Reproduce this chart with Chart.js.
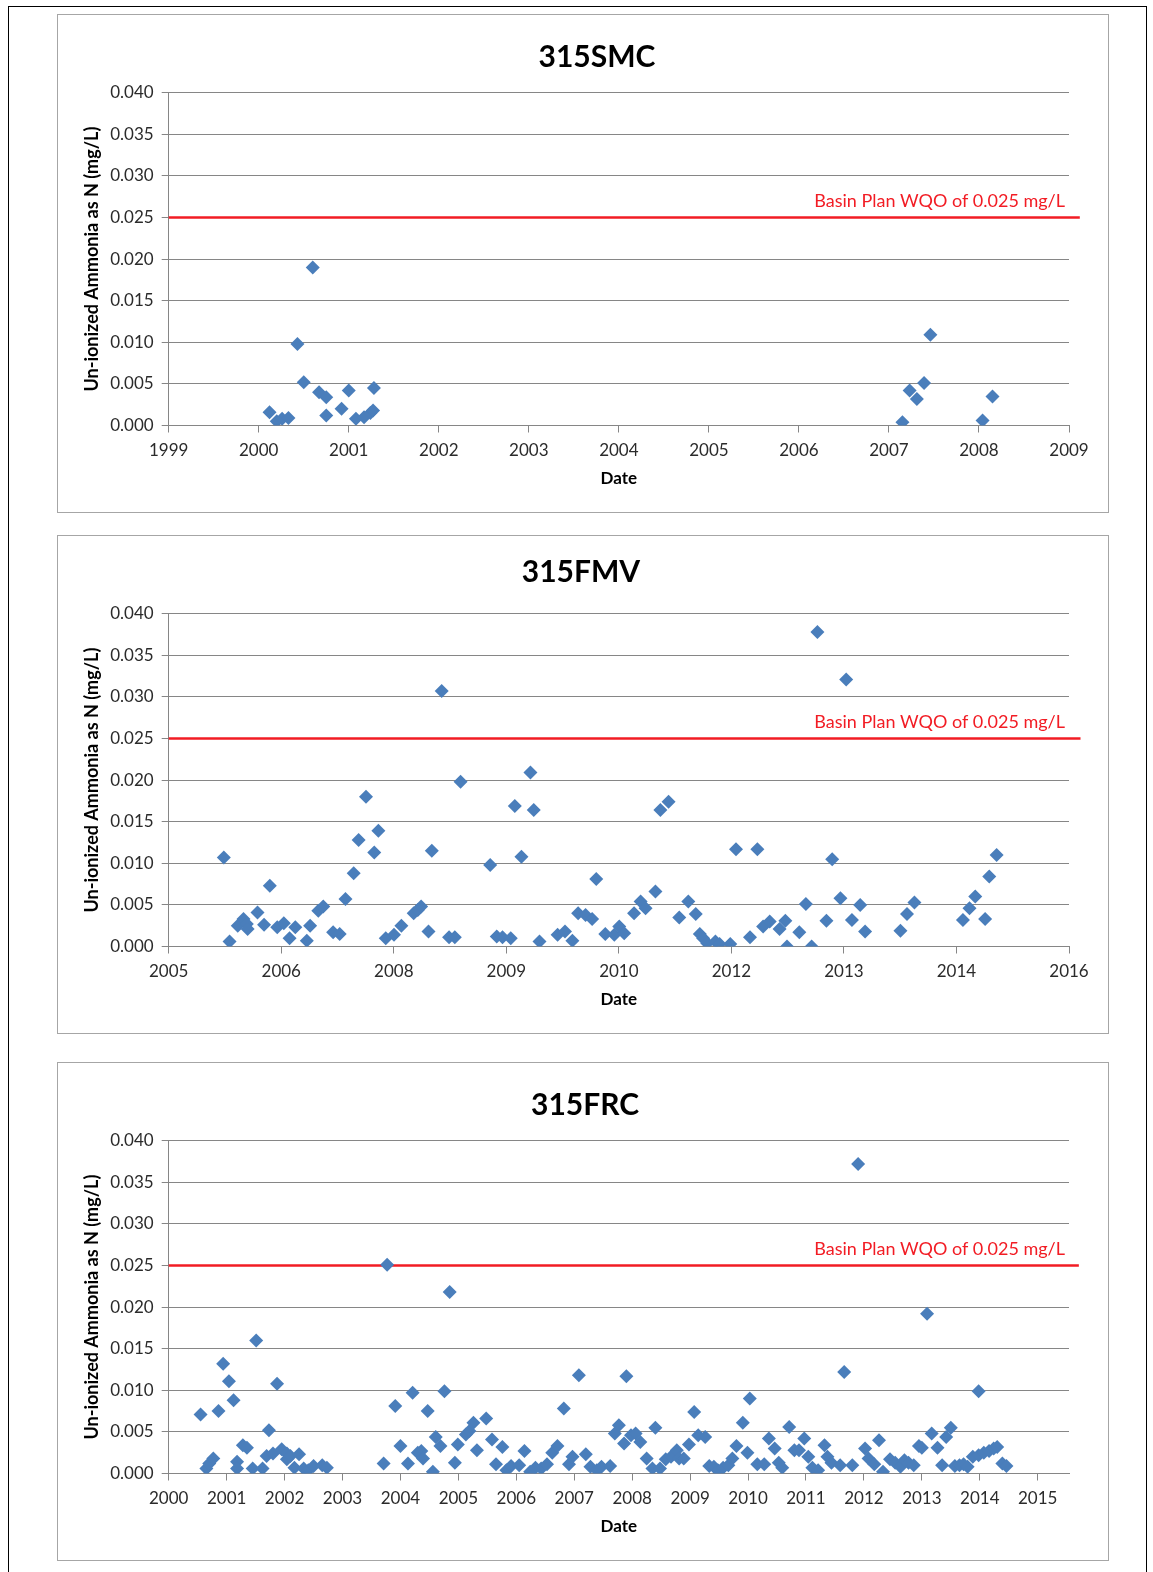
<!DOCTYPE html>
<html>
<head>
<meta charset="utf-8">
<script src="https://cdn.jsdelivr.net/npm/chart.js@4.4.1/dist/chart.umd.min.js"></script>
<style>
    body { margin: 0; background: #fff; width: 1153px; height: 1572px; position: relative; overflow: hidden; }
    .page { position: absolute; left: 8px; top: 6px; width: 1139px; height: 1620px; border: 1.5px solid #000; box-sizing: border-box; }
    .box { position: absolute; left: 57px; width: 1052px; height: 499px; border: 1px solid #a6a6a6; box-sizing: border-box; background: #fff; }
    .box canvas { display: block; }
</style>
</head>
<body>
<div class="page"></div>
<div class="box" style="top:14px"><canvas id="chartSMC" width="1050" height="497"></canvas></div>
<div class="box" style="top:535px"><canvas id="chartFMV" width="1050" height="497"></canvas></div>
<div class="box" style="top:1062px"><canvas id="chartFRC" width="1050" height="497"></canvas></div>

<script>
// Objetivo de calidad (Basin Plan WQO)
const wqoLimit = 0.025;
const wqoText = 'Basin Plan WQO of 0.025 mg/L';

// Eje Y común
const yMin = 0;
const yMax = 0.040;
const yStep = 0.005;

// 315SMC
const smcTickLabels = ['1999', '2000', '2001', '2002', '2003', '2004', '2005', '2006', '2007', '2008', '2009'];
const smcRange = [1999, 2009];
const smcLineEnd = 2009.12;
const smcDates = [2000.12, 2000.20, 2000.26, 2000.33, 2000.43, 2000.50, 2000.60, 2000.67, 2000.75, 2000.75,
    2000.92, 2001.00, 2001.08, 2001.17, 2001.24, 2001.27, 2001.28,
    2007.15, 2007.23, 2007.31, 2007.39, 2007.46, 2008.04, 2008.15];
const smcValues = [0.0016, 0.0005, 0.0008, 0.0009, 0.0098, 0.0052, 0.0190, 0.0040, 0.0034, 0.0012,
    0.0020, 0.0042, 0.0008, 0.0010, 0.0015, 0.0018, 0.0045,
    0.0004, 0.0042, 0.0032, 0.0051, 0.0109, 0.0006, 0.0035];

// 315FMV (eje con paso de 500 días)
const fmvTickLabels = ['2005', '2006', '2008', '2009', '2010', '2012', '2013', '2014', '2016'];
const fmvRange = [2005.33, 2016.28];
const fmvLineEnd = 2016.42;
const fmvDates = [2006.00, 2006.07, 2006.17, 2006.24, 2006.28, 2006.29, 2006.41, 2006.49, 2006.56, 2006.65,
    2006.73, 2006.80, 2006.87, 2007.01, 2007.05, 2007.15, 2007.21, 2007.33, 2007.41, 2007.48,
    2007.58, 2007.64, 2007.73, 2007.83, 2007.88, 2007.97, 2008.07, 2008.16, 2008.31, 2008.36,
    2008.40, 2008.49, 2008.53, 2008.65, 2008.74, 2008.81, 2008.88, 2009.24, 2009.32, 2009.39,
    2009.49, 2009.54, 2009.62, 2009.73, 2009.77, 2009.84, 2010.06, 2010.15, 2010.24, 2010.31,
    2010.40, 2010.48, 2010.53, 2010.64, 2010.75, 2010.81, 2010.87, 2010.99, 2011.07, 2011.13,
    2011.25, 2011.31, 2011.41, 2011.54, 2011.65, 2011.74, 2011.79, 2011.83, 2011.88, 2011.98,
    2012.03, 2012.16, 2012.23, 2012.40, 2012.49, 2012.56, 2012.64, 2012.76, 2012.83, 2012.85,
    2013.00, 2013.08, 2013.15, 2013.22, 2013.33, 2013.40, 2013.50, 2013.57, 2013.64, 2013.74,
    2013.80, 2014.23, 2014.31, 2014.40, 2014.99, 2015.07, 2015.14, 2015.26, 2015.31, 2015.40];
const fmvValues = [0.0107, 0.0006, 0.0025, 0.0033, 0.0027, 0.0021, 0.0041, 0.0026, 0.0073, 0.0023,
    0.0028, 0.0010, 0.0023, 0.0007, 0.0025, 0.0043, 0.0048, 0.0017, 0.0015, 0.0057,
    0.0088, 0.0128, 0.0180, 0.0113, 0.0139, 0.0010, 0.0014, 0.0025, 0.0040, 0.0044,
    0.0048, 0.0018, 0.0115, 0.0307, 0.0011, 0.0011, 0.0198, 0.0098, 0.0012, 0.0011,
    0.0010, 0.0169, 0.0108, 0.0209, 0.0164, 0.0006, 0.0014, 0.0018, 0.0007, 0.0040,
    0.0038, 0.0033, 0.0081, 0.0015, 0.0014, 0.0024, 0.0016, 0.0040, 0.0054, 0.0046,
    0.0066, 0.0164, 0.0174, 0.0035, 0.0054, 0.0039, 0.0015, 0.0010, 0.0004, 0.0006,
    0.0003, 0.0003, 0.0117, 0.0011, 0.0117, 0.0024, 0.0030, 0.0021, 0.0031, 0.0000,
    0.0017, 0.0051, 0.0000, 0.0378, 0.0031, 0.0105, 0.0058, 0.0321, 0.0032, 0.0050,
    0.0018, 0.0019, 0.0039, 0.0053, 0.0032, 0.0046, 0.0060, 0.0033, 0.0084, 0.0110];

// 315FRC
const frcTickLabels = ['2000', '2001', '2002', '2003', '2004', '2005', '2006', '2007',
    '2008', '2009', '2010', '2011', '2012', '2013', '2014', '2015'];
const frcRange = [2000, 2015.54];
const frcLineEnd = 2015.71;
const frcDates = [2000.55, 2000.65, 2000.70, 2000.77, 2000.86, 2000.94, 2001.04, 2001.12, 2001.18, 2001.18,
    2001.28, 2001.35, 2001.45, 2001.51, 2001.62, 2001.69, 2001.73, 2001.80, 2001.87, 2001.95,
    2002.04, 2002.04, 2002.10, 2002.17, 2002.25, 2002.33, 2002.41, 2002.50, 2002.65, 2002.73,
    2003.71, 2003.77, 2003.91, 2004.00, 2004.13, 2004.21, 2004.30, 2004.36, 2004.39, 2004.47,
    2004.56, 2004.61, 2004.69, 2004.76, 2004.85, 2004.94, 2004.99, 2005.13, 2005.19, 2005.26,
    2005.32, 2005.48, 2005.58, 2005.65, 2005.76, 2005.83, 2005.91, 2006.05, 2006.14, 2006.24,
    2006.33, 2006.43, 2006.53, 2006.62, 2006.71, 2006.82, 2006.91, 2006.97, 2007.08, 2007.20,
    2007.28, 2007.39, 2007.47, 2007.62, 2007.70, 2007.77, 2007.86, 2007.90, 2007.98, 2008.06,
    2008.14, 2008.25, 2008.35, 2008.40, 2008.48, 2008.58, 2008.67, 2008.77, 2008.81, 2008.89,
    2008.98, 2009.07, 2009.14, 2009.26, 2009.33, 2009.41, 2009.48, 2009.57, 2009.66, 2009.73,
    2009.80, 2009.91, 2009.99, 2010.03, 2010.16, 2010.28, 2010.36, 2010.46, 2010.53, 2010.59,
    2010.71, 2010.80, 2010.88, 2010.97, 2011.04, 2011.11, 2011.21, 2011.32, 2011.37, 2011.44,
    2011.59, 2011.66, 2011.80, 2011.90, 2012.02, 2012.08, 2012.18, 2012.26, 2012.33, 2012.45,
    2012.54, 2012.63, 2012.70, 2012.77, 2012.86, 2012.95, 2013.00, 2013.09, 2013.17, 2013.27,
    2013.35, 2013.42, 2013.50, 2013.57, 2013.65, 2013.72, 2013.79, 2013.88, 2013.98, 2013.98,
    2014.07, 2014.16, 2014.24, 2014.30, 2014.39, 2014.46];
const frcValues = [0.0071, 0.0006, 0.0012, 0.0018, 0.0075, 0.0132, 0.0111, 0.0088, 0.0014, 0.0006,
    0.0034, 0.0031, 0.0006, 0.0160, 0.0006, 0.0021, 0.0052, 0.0024, 0.0108, 0.0029,
    0.0024, 0.0017, 0.0021, 0.0007, 0.0023, 0.0006, 0.0004, 0.0009, 0.0010, 0.0007,
    0.0012, 0.0251, 0.0081, 0.0033, 0.0012, 0.0097, 0.0025, 0.0027, 0.0018, 0.0075,
    0.0002, 0.0044, 0.0033, 0.0099, 0.0218, 0.0013, 0.0035, 0.0047, 0.0051, 0.0061,
    0.0028, 0.0066, 0.0041, 0.0011, 0.0032, 0.0004, 0.0009, 0.0010, 0.0027, 0.0002,
    0.0007, 0.0006, 0.0011, 0.0025, 0.0033, 0.0078, 0.0011, 0.0020, 0.0118, 0.0023,
    0.0008, 0.0004, 0.0008, 0.0009, 0.0048, 0.0058, 0.0036, 0.0117, 0.0046, 0.0048,
    0.0038, 0.0018, 0.0006, 0.0055, 0.0006, 0.0017, 0.0020, 0.0028, 0.0018, 0.0018,
    0.0035, 0.0074, 0.0046, 0.0044, 0.0009, 0.0008, 0.0004, 0.0007, 0.0010, 0.0018,
    0.0033, 0.0061, 0.0025, 0.0090, 0.0011, 0.0011, 0.0042, 0.0030, 0.0013, 0.0007,
    0.0056, 0.0028, 0.0028, 0.0042, 0.0020, 0.0007, 0.0004, 0.0034, 0.0020, 0.0013,
    0.0010, 0.0122, 0.0010, 0.0372, 0.0030, 0.0018, 0.0011, 0.0040, 0.0002, 0.0017,
    0.0013, 0.0008, 0.0016, 0.0013, 0.0010, 0.0033, 0.0031, 0.0192, 0.0048, 0.0031,
    0.0010, 0.0044, 0.0055, 0.0009, 0.0010, 0.0011, 0.0008, 0.0020, 0.0099, 0.0022,
    0.0025, 0.0027, 0.0030, 0.0032, 0.0012, 0.0009];

// Estilos
const FONT = 'Lato';
const TEXT_COLOR = '#2b2b2b';
const GRID_COLOR = '#868686';
const POINT_COLOR = '#4a7ebb';
const RED = '#f21c24';

// Etiqueta del límite WQO
const wqoLabelPlugin = {
    id: 'wqoLabel',
    afterDatasetsDraw(chart) {
        const { ctx, chartArea, scales } = chart;
        const y = scales.y.getPixelForValue(wqoLimit);
        ctx.save();
        ctx.font = `18px ${FONT}`;
        ctx.fillStyle = RED;
        ctx.textAlign = 'right';
        ctx.textBaseline = 'middle';
        ctx.fillText(wqoText, chartArea.right - 4, y - 16);
        ctx.restore();
    }
};

// Título del gráfico, centrado sobre el recuadro
const boxTitlePlugin = {
    id: 'boxTitle',
    afterDraw(chart, args, opts) {
        const { ctx, width } = chart;
        ctx.save();
        ctx.font = `bold 30px ${FONT}`;
        ctx.fillStyle = '#000';
        ctx.textAlign = 'center';
        ctx.textBaseline = 'middle';
        ctx.fillText(opts.text, width / 2 + opts.dx, opts.y);
        ctx.restore();
    }
};

function buildChart(canvasId, title, titlePos, dates, values, range, tickLabels, lineEnd) {
    const points = dates.map((d, i) => ({ x: d, y: values[i] }));
    const ctx = document.getElementById(canvasId).getContext('2d');

    return new Chart(ctx, {
        type: 'scatter',
        data: {
            datasets: [
                {
                    label: 'Un-ionized Ammonia',
                    data: points,
                    pointStyle: 'rectRot',
                    pointRadius: 7,
                    pointBackgroundColor: POINT_COLOR,
                    pointBorderColor: POINT_COLOR,
                    pointBorderWidth: 0,
                    order: 0
                },
                {
                    label: 'WQO',
                    data: [{ x: range[0], y: wqoLimit }, { x: lineEnd, y: wqoLimit }],
                    showLine: true,
                    borderColor: RED,
                    borderWidth: 2.5,
                    pointRadius: 0,
                    clip: false,
                    order: 1
                }
            ]
        },
        options: {
            responsive: false,
            animation: false,
            layout: { padding: { left: 0, right: 39, top: 77.7, bottom: 0 } },
            plugins: {
                legend: { display: false },
                tooltip: { enabled: false },
                title: { display: false },
                boxTitle: { text: title, dx: titlePos.dx, y: titlePos.y }
            },
            scales: {
                x: {
                    type: 'linear',
                    min: range[0],
                    max: range[1],
                    afterBuildTicks: (scale) => {
                        // ticks repartidos por igual, como en el original
                        const span = tickLabels.length - 1;
                        const last = (canvasId === 'chartFRC') ? range[0] + span : range[1];
                        const step = (last - range[0]) / span;
                        scale.ticks = tickLabels.map((_, i) => ({ value: range[0] + i * step }));
                    },
                    afterFit: (scale) => { scale.height = 86.5; },
                    ticks: {
                        autoSkip: false,
                        maxRotation: 0,
                        padding: 8,
                        color: TEXT_COLOR,
                        font: { family: FONT, size: 17 },
                        callback: (v, i) => tickLabels[i]
                    },
                    grid: { drawOnChartArea: false, tickLength: 7, color: GRID_COLOR },
                    border: { color: GRID_COLOR },
                    title: {
                        display: true,
                        text: 'Date',
                        color: '#000',
                        font: { family: FONT, size: 17, weight: 'bold' },
                        padding: { top: 0, bottom: 23 }
                    }
                },
                y: {
                    min: yMin,
                    max: yMax,
                    afterFit: (scale) => { scale.width = 110.7; },
                    ticks: {
                        stepSize: yStep,
                        padding: 8,
                        color: TEXT_COLOR,
                        font: { family: FONT, size: 17 },
                        callback: (v) => v.toFixed(3)
                    },
                    grid: { tickLength: 7, color: GRID_COLOR },
                    border: { color: GRID_COLOR },
                    title: {
                        display: true,
                        text: 'Un-ionized Ammonia as N (mg/L)',
                        color: '#000',
                        font: { family: FONT, size: 18, weight: 'bold' },
                        padding: { top: 23.5, bottom: 0 }
                    }
                }
            }
        },
        plugins: [wqoLabelPlugin, boxTitlePlugin]
    });
}

buildChart('chartSMC', '315SMC', { dx: 14, y: 42.5 }, smcDates, smcValues, smcRange, smcTickLabels, smcLineEnd);
buildChart('chartFMV', '315FMV', { dx: -2, y: 36.5 }, fmvDates, fmvValues, fmvRange, fmvTickLabels, fmvLineEnd);
buildChart('chartFRC', '315FRC', { dx: 2, y: 42 }, frcDates, frcValues, frcRange, frcTickLabels, frcLineEnd);
</script>
</body>
</html>
